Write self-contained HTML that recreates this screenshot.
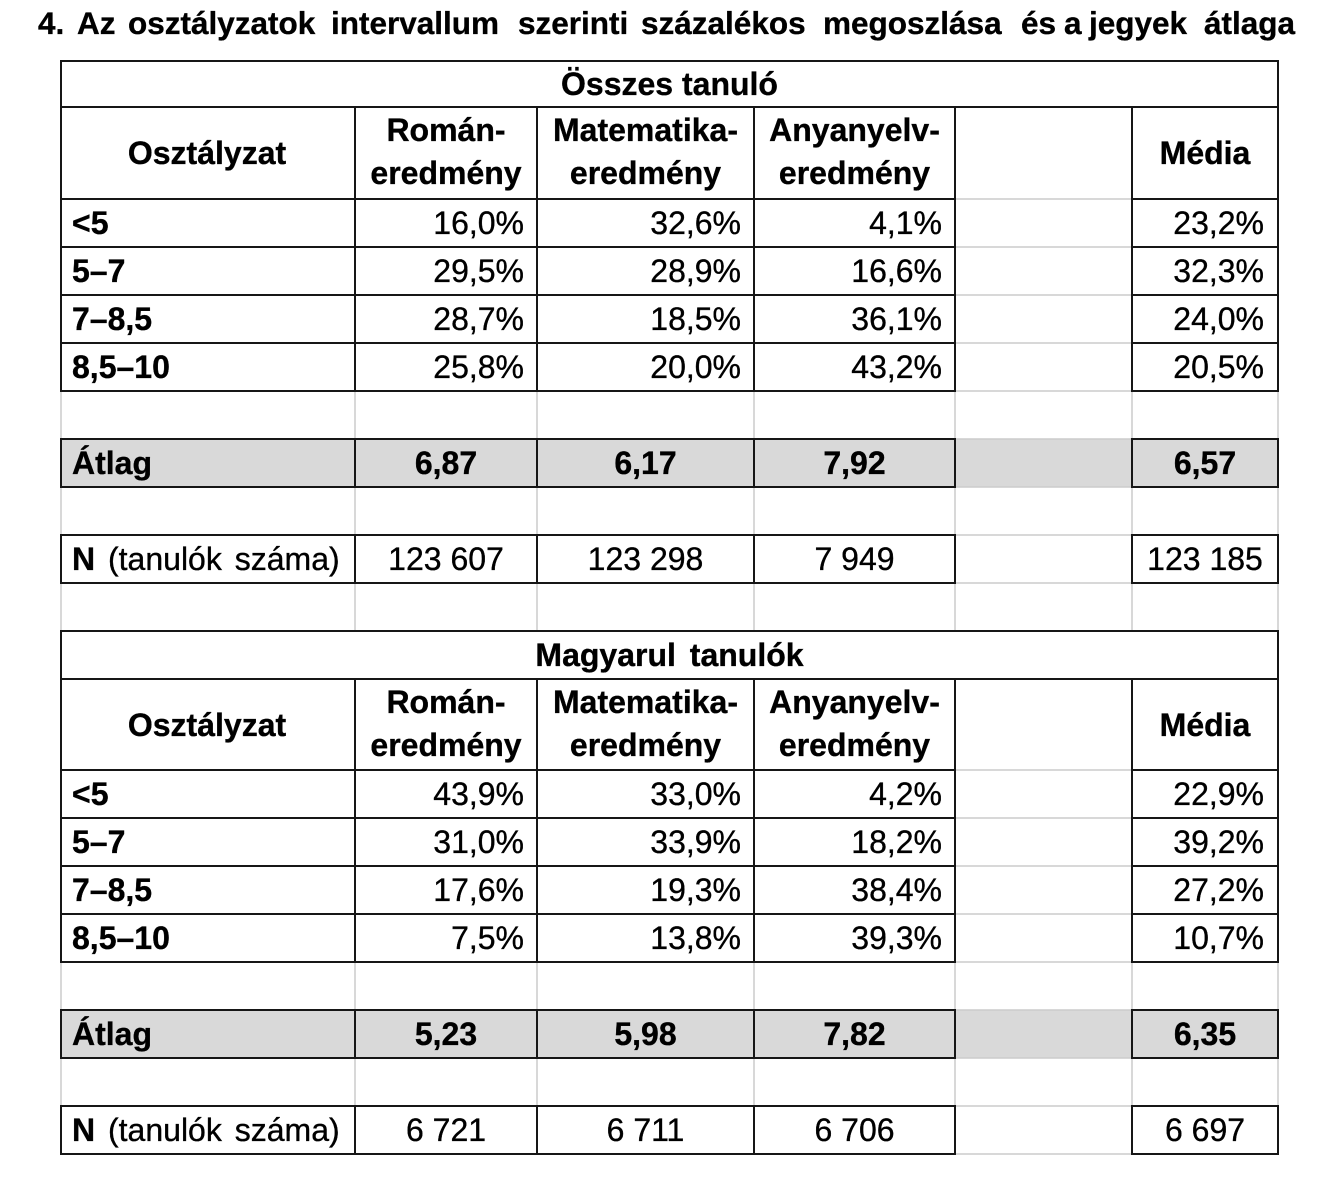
<!DOCTYPE html>
<html><head><meta charset="utf-8"><style>
html,body{margin:0;padding:0;background:#fff;}
svg{display:block;}
text{font-family:"Liberation Sans",Arial,sans-serif;fill:#000;stroke:#000;stroke-width:0.35px;}
.b{font-weight:bold;}
.t{font-size:32px;}
.h{font-size:31.5px;font-weight:bold;}
</style></head><body>
<svg width="1330" height="1181" viewBox="0 0 1330 1181" xmlns="http://www.w3.org/2000/svg">
<rect x="0" y="0" width="1330" height="1181" fill="#fff"/>
<!-- Title -->
<g class="h">
<text x="38" y="34" class="h">4.</text>
<text x="77" y="34" class="h">Az</text>
<text x="128" y="34" class="h">osztályzatok</text>
<text x="331" y="34" class="h">intervallum</text>
<text x="518" y="34" class="h">szerinti</text>
<text x="641" y="34" class="h">százalékos</text>
<text x="823" y="34" class="h">megoszlása</text>
<text x="1021" y="34" class="h">és</text>
<text x="1064" y="34" class="h">a</text>
<text x="1089" y="34" class="h">jegyek</text>
<text x="1204" y="34" class="h">átlaga</text>
</g>
<!-- fills -->
<rect x="61" y="439" width="1217" height="48" fill="#d9d9d9"/>
<rect x="61" y="1010" width="1217" height="48" fill="#d9d9d9"/>
<!-- gray grid -->
<g stroke="#cccccc" stroke-width="1.5" fill="none">
<line x1="61" y1="61" x2="61" y2="1154"/>
<line x1="1278" y1="61" x2="1278" y2="1154"/>
<line x1="355" y1="107" x2="355" y2="631"/><line x1="355" y1="679" x2="355" y2="1154"/>
<line x1="537" y1="107" x2="537" y2="631"/><line x1="537" y1="679" x2="537" y2="1154"/>
<line x1="754" y1="107" x2="754" y2="631"/><line x1="754" y1="679" x2="754" y2="1154"/>
<line x1="955" y1="107" x2="955" y2="631"/><line x1="955" y1="679" x2="955" y2="1154"/>
<line x1="1132" y1="107" x2="1132" y2="631"/><line x1="1132" y1="679" x2="1132" y2="1154"/>
<line x1="955" y1="199" x2="1132" y2="199"/>
<line x1="955" y1="247" x2="1132" y2="247"/>
<line x1="955" y1="295" x2="1132" y2="295"/>
<line x1="955" y1="343" x2="1132" y2="343"/>
<line x1="955" y1="391" x2="1132" y2="391"/>
<line x1="955" y1="439" x2="1132" y2="439"/>
<line x1="955" y1="487" x2="1132" y2="487"/>
<line x1="955" y1="535" x2="1132" y2="535"/>
<line x1="955" y1="583" x2="1132" y2="583"/>
<line x1="955" y1="770" x2="1132" y2="770"/>
<line x1="955" y1="818" x2="1132" y2="818"/>
<line x1="955" y1="866" x2="1132" y2="866"/>
<line x1="955" y1="914" x2="1132" y2="914"/>
<line x1="955" y1="962" x2="1132" y2="962"/>
<line x1="955" y1="1010" x2="1132" y2="1010"/>
<line x1="955" y1="1058" x2="1132" y2="1058"/>
<line x1="955" y1="1106" x2="1132" y2="1106"/>
<line x1="955" y1="1154" x2="1132" y2="1154"/>
</g>
<!-- black borders -->
<g stroke="#161616" stroke-width="2" fill="none" stroke-linecap="square">
<line x1="61" y1="61" x2="1278" y2="61"/>
<line x1="61" y1="107" x2="1278" y2="107"/>
<line x1="61" y1="631" x2="1278" y2="631"/>
<line x1="61" y1="679" x2="1278" y2="679"/>
<path d="M61 199H955M1132 199H1278 M61 247H955M1132 247H1278 M61 295H955M1132 295H1278 M61 343H955M1132 343H1278 M61 391H955M1132 391H1278 M61 439H955M1132 439H1278 M61 487H955M1132 487H1278 M61 535H955M1132 535H1278 M61 583H955M1132 583H1278"/>
<path d="M61 770H955M1132 770H1278 M61 818H955M1132 818H1278 M61 866H955M1132 866H1278 M61 914H955M1132 914H1278 M61 962H955M1132 962H1278 M61 1010H955M1132 1010H1278 M61 1058H955M1132 1058H1278 M61 1106H955M1132 1106H1278 M61 1154H955M1132 1154H1278"/>
<path d="M61 61V391 M61 439V487 M61 535V583 M61 631V962 M61 1010V1058 M61 1106V1154"/>
<path d="M1278 61V391 M1278 439V487 M1278 535V583 M1278 631V962 M1278 1010V1058 M1278 1106V1154"/>
<path d="M355 107V391 M355 439V487 M355 535V583 M355 679V962 M355 1010V1058 M355 1106V1154"/>
<path d="M537 107V391 M537 439V487 M537 535V583 M537 679V962 M537 1010V1058 M537 1106V1154"/>
<path d="M754 107V391 M754 439V487 M754 535V583 M754 679V962 M754 1010V1058 M754 1106V1154"/>
<path d="M955 107V391 M955 439V487 M955 535V583 M955 679V962 M955 1010V1058 M955 1106V1154"/>
<path d="M1132 107V391 M1132 439V487 M1132 535V583 M1132 679V962 M1132 1010V1058 M1132 1106V1154"/>
</g>

<!-- ===== Table 1 ===== -->
<g class="t">
<text x="669.5" y="95" text-anchor="middle" class="b">Összes tanuló</text>
<text x="207" y="164" text-anchor="middle" class="b">Osztályzat</text>
<text x="446" y="141" text-anchor="middle" class="b">Román-</text>
<text x="446" y="184" text-anchor="middle" class="b">eredmény</text>
<text x="645.5" y="141" text-anchor="middle" class="b">Matematika-</text>
<text x="645.5" y="184" text-anchor="middle" class="b">eredmény</text>
<text x="854.5" y="141" text-anchor="middle" class="b">Anyanyelv-</text>
<text x="854.5" y="184" text-anchor="middle" class="b">eredmény</text>
<text x="1205" y="164" text-anchor="middle" class="b">Média</text>

<text x="72" y="234" class="b">&lt;5</text>
<text x="524" y="234" text-anchor="end">16,0%</text>
<text x="741" y="234" text-anchor="end">32,6%</text>
<text x="942" y="234" text-anchor="end">4,1%</text>
<text x="1264" y="234" text-anchor="end">23,2%</text>

<text x="72" y="282" class="b">5–7</text>
<text x="524" y="282" text-anchor="end">29,5%</text>
<text x="741" y="282" text-anchor="end">28,9%</text>
<text x="942" y="282" text-anchor="end">16,6%</text>
<text x="1264" y="282" text-anchor="end">32,3%</text>

<text x="72" y="330" class="b">7–8,5</text>
<text x="524" y="330" text-anchor="end">28,7%</text>
<text x="741" y="330" text-anchor="end">18,5%</text>
<text x="942" y="330" text-anchor="end">36,1%</text>
<text x="1264" y="330" text-anchor="end">24,0%</text>

<text x="72" y="378" class="b">8,5–10</text>
<text x="524" y="378" text-anchor="end">25,8%</text>
<text x="741" y="378" text-anchor="end">20,0%</text>
<text x="942" y="378" text-anchor="end">43,2%</text>
<text x="1264" y="378" text-anchor="end">20,5%</text>

<text x="72" y="474" class="b">Átlag</text>
<text x="446" y="474" text-anchor="middle" class="b">6,87</text>
<text x="645.5" y="474" text-anchor="middle" class="b">6,17</text>
<text x="854.5" y="474" text-anchor="middle" class="b">7,92</text>
<text x="1205" y="474" text-anchor="middle" class="b">6,57</text>

<text x="72" y="570" style="word-spacing:4px"><tspan class="b">N</tspan> (tanulók száma)</text>
<text x="446" y="570" text-anchor="middle">123 607</text>
<text x="645.5" y="570" text-anchor="middle">123 298</text>
<text x="854.5" y="570" text-anchor="middle">7 949</text>
<text x="1205" y="570" text-anchor="middle">123 185</text>
</g>

<!-- ===== Table 2 ===== -->
<g class="t">
<text x="669.5" y="666" text-anchor="middle" class="b" style="word-spacing:5px">Magyarul tanulók</text>
<text x="207" y="736" text-anchor="middle" class="b">Osztályzat</text>
<text x="446" y="713" text-anchor="middle" class="b">Román-</text>
<text x="446" y="756" text-anchor="middle" class="b">eredmény</text>
<text x="645.5" y="713" text-anchor="middle" class="b">Matematika-</text>
<text x="645.5" y="756" text-anchor="middle" class="b">eredmény</text>
<text x="854.5" y="713" text-anchor="middle" class="b">Anyanyelv-</text>
<text x="854.5" y="756" text-anchor="middle" class="b">eredmény</text>
<text x="1205" y="736" text-anchor="middle" class="b">Média</text>

<text x="72" y="805" class="b">&lt;5</text>
<text x="524" y="805" text-anchor="end">43,9%</text>
<text x="741" y="805" text-anchor="end">33,0%</text>
<text x="942" y="805" text-anchor="end">4,2%</text>
<text x="1264" y="805" text-anchor="end">22,9%</text>

<text x="72" y="853" class="b">5–7</text>
<text x="524" y="853" text-anchor="end">31,0%</text>
<text x="741" y="853" text-anchor="end">33,9%</text>
<text x="942" y="853" text-anchor="end">18,2%</text>
<text x="1264" y="853" text-anchor="end">39,2%</text>

<text x="72" y="901" class="b">7–8,5</text>
<text x="524" y="901" text-anchor="end">17,6%</text>
<text x="741" y="901" text-anchor="end">19,3%</text>
<text x="942" y="901" text-anchor="end">38,4%</text>
<text x="1264" y="901" text-anchor="end">27,2%</text>

<text x="72" y="949" class="b">8,5–10</text>
<text x="524" y="949" text-anchor="end">7,5%</text>
<text x="741" y="949" text-anchor="end">13,8%</text>
<text x="942" y="949" text-anchor="end">39,3%</text>
<text x="1264" y="949" text-anchor="end">10,7%</text>

<text x="72" y="1045" class="b">Átlag</text>
<text x="446" y="1045" text-anchor="middle" class="b">5,23</text>
<text x="645.5" y="1045" text-anchor="middle" class="b">5,98</text>
<text x="854.5" y="1045" text-anchor="middle" class="b">7,82</text>
<text x="1205" y="1045" text-anchor="middle" class="b">6,35</text>

<text x="72" y="1141" style="word-spacing:4px"><tspan class="b">N</tspan> (tanulók száma)</text>
<text x="446" y="1141" text-anchor="middle">6 721</text>
<text x="645.5" y="1141" text-anchor="middle">6 711</text>
<text x="854.5" y="1141" text-anchor="middle">6 706</text>
<text x="1205" y="1141" text-anchor="middle">6 697</text>
</g>
</svg>
</body></html>
